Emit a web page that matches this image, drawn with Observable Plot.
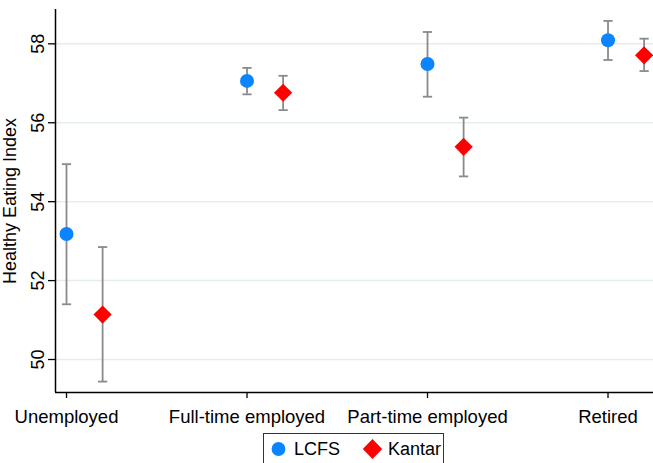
<!DOCTYPE html>
<html>
<head>
<meta charset="utf-8">
<script src="https://cdn.jsdelivr.net/npm/d3@7"></script>
<script src="https://cdn.jsdelivr.net/npm/@observablehq/plot@0.6"></script>
<style>
  html, body { margin: 0; padding: 0; background: #fff; overflow: hidden; }
  body { font-family: "Liberation Sans", Arial, sans-serif; width: 653px; height: 463px; }
  #chart svg { display: block; overflow: visible; }
  #legend { position: relative; height: 33px; }
  #legend .box {
    position: absolute; left: 263px; top: 3px; width: 181px; height: 32px;
    border: 1px solid #333; box-sizing: border-box; background: #fff;
    display: flex; align-items: center; font-size: 18px; color: #000;
  }
  #legend .item { display: flex; align-items: center; }
  #legend .item svg { display: block; }
</style>
</head>
<body>
<div id="chart"></div>
<div id="legend"><div class="box"></div></div>
<script>
// Healthy Eating Index by employment status, two survey sources
const categories = ["Unemployed", "Full-time employed", "Part-time employed", "Retired"];
const series = ["LCFS", "Kantar"];
const seriesColors = ["#0a84ff", "#ff0000"];
const yTitle = "Healthy Eating Index";

const lcfsMean = [53.18, 57.06, 57.49, 58.09];
const lcfsLow  = [51.40, 56.72, 56.66, 57.59];
const lcfsHigh = [54.95, 57.39, 58.30, 58.58];

const kantarMean = [51.14, 56.76, 55.39, 57.71];
const kantarLow  = [49.44, 56.32, 54.64, 57.31];
const kantarHigh = [52.85, 57.19, 56.13, 58.13];

const yTicks = [50, 52, 54, 56, 58];
const xTicks = [1, 2, 3, 4];
const kantarShift = 0.2;

// group positions 1..4, second source shifted right
const rows = [];
categories.forEach((c, i) => {
  rows.push({series: "LCFS", pos: i + 1, mean: lcfsMean[i], lo: lcfsLow[i], hi: lcfsHigh[i]});
  rows.push({series: "Kantar", pos: i + 1 + kantarShift, mean: kantarMean[i], lo: kantarLow[i], hi: kantarHigh[i]});
});
const lcfs = rows.filter(d => d.series === "LCFS");
const kantar = rows.filter(d => d.series === "Kantar");

const xDomain = [0.939, 4.252];
const yDomain = [49.164, 58.87];

// horizontal cap for the whiskers
const capSymbol = {
  draw(ctx, size) {
    const r = Math.sqrt(size / Math.PI);
    ctx.moveTo(-r, 0);
    ctx.lineTo(r, 0);
  }
};

const whisker = "#8a8a8a";

const chart = Plot.plot({
  width: 653,
  height: 430,
  marginLeft: 55,
  marginRight: 0,
  marginTop: 9,
  marginBottom: 38,
  style: {fontFamily: "'Liberation Sans', Arial, sans-serif", fontSize: "18px", color: "#000", background: "#fff", overflow: "visible"},
  x: {type: "linear", domain: xDomain},
  y: {domain: yDomain},
  marks: [
    Plot.gridY(yTicks, {stroke: "#e4eded", strokeOpacity: 1, strokeWidth: 1.5}),
    Plot.ruleX(rows, {x: "pos", y1: "lo", y2: "hi", stroke: whisker, strokeWidth: 1.8}),
    Plot.dot(rows, {x: "pos", y: "lo", symbol: capSymbol, r: 4.6, stroke: whisker, strokeWidth: 1.8}),
    Plot.dot(rows, {x: "pos", y: "hi", symbol: capSymbol, r: 4.6, stroke: whisker, strokeWidth: 1.8}),
    Plot.dot(lcfs, {x: "pos", y: "mean", symbol: "circle", r: 7, fill: seriesColors[0]}),
    Plot.dot(kantar, {x: "pos", y: "mean", symbol: "diamond2", r: 8.2, fill: seriesColors[1]}),
    Plot.ruleX([xDomain[0]], {stroke: "#000", strokeWidth: 1.5}),
    Plot.ruleY([yDomain[0]], {stroke: "#000", strokeWidth: 1.5}),
    Plot.axisX(xTicks, {
      anchor: "bottom", tickSize: 6, tickPadding: 11, strokeWidth: 1.3,
      tickFormat: d => categories[d - 1], label: null, fontSize: 18.5
    }),
    Plot.axisY(yTicks, {
      anchor: "left", tickSize: 7, tickPadding: 5, strokeWidth: 1.3,
      tickRotate: -90, textAnchor: "middle", lineAnchor: "bottom", fontSize: 18,
      label: yTitle, labelAnchor: "center", labelOffset: 52, labelArrow: "none"
    })
  ]
});
document.getElementById("chart").appendChild(chart);

// legend
const box = document.querySelector("#legend .box");
const swatches = [
  {name: series[0], color: seriesColors[0], shape: "circle"},
  {name: series[1], color: seriesColors[1], shape: "diamond"}
];
swatches.forEach((s, i) => {
  const item = document.createElement("div");
  item.className = "item";
  item.style.marginLeft = i === 0 ? "7px" : "22px";
  const shape = s.shape === "circle"
    ? `<svg width="15" height="20"><circle cx="7.5" cy="10" r="6.9" fill="${s.color}"/></svg>`
    : `<svg width="21" height="22"><path d="M10.5,1 L20.2,11 L10.5,21 L0.8,11 Z" fill="${s.color}"/></svg>`;
  item.innerHTML = shape + `<span style="margin-left:${i === 0 ? 8 : 5}px">${s.name}</span>`;
  box.appendChild(item);
});
</script>
</body>
</html>
